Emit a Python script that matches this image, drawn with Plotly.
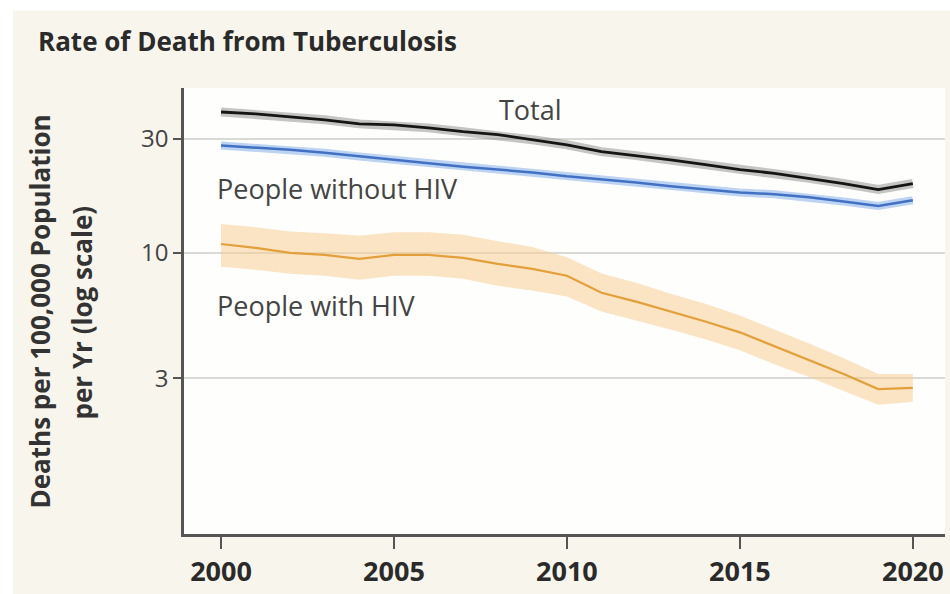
import plotly.graph_objects as go

years = list(range(2000, 2021))

total = [38.8, 38.1, 37.0, 36.0, 34.6, 34.3, 33.3, 32.1, 31.2, 29.7, 28.3,
         26.5, 25.5, 24.5, 23.4, 22.3, 21.5, 20.5, 19.5, 18.4, 19.5]

without_hiv = [28.1, 27.5, 27.0, 26.2, 25.3, 24.5, 23.6, 22.9, 22.3, 21.7, 20.9,
               20.3, 19.7, 19.0, 18.4, 17.9, 17.6, 17.1, 16.4, 15.7, 16.6]

with_hiv = [10.9, 10.5, 10.0, 9.81, 9.44, 9.81, 9.81, 9.53, 9.00, 8.58, 8.03,
            6.82, 6.26, 5.69, 5.17, 4.66, 4.07, 3.56, 3.12, 2.70, 2.73]
with_hiv_upper = [13.2, 12.8, 12.3, 12.1, 11.8, 12.2, 12.2, 11.9, 11.2, 10.6, 9.6,
                  8.2, 7.5, 6.76, 6.14, 5.48, 4.79, 4.19, 3.63, 3.12, 3.12]
with_hiv_lower = [8.75, 8.50, 8.18, 8.03, 7.73, 8.03, 8.03, 7.80, 7.30, 6.96, 6.57,
                  5.69, 5.22, 4.79, 4.36, 3.92, 3.43, 3.03, 2.65, 2.32, 2.39]

x_ticks = [2000, 2005, 2010, 2015, 2020]
y_ticks = [3, 10, 30]
y_tick_labels = ["3", "10", "30"]

FONT = "Open Sans"

fig = go.Figure()

# People with HIV uncertainty band
fig.add_trace(go.Scatter(x=years, y=with_hiv_upper, mode="lines",
                         line=dict(width=0, color="rgba(0,0,0,0)"),
                         hoverinfo="skip", showlegend=False))
fig.add_trace(go.Scatter(x=years, y=with_hiv_lower, mode="lines",
                         line=dict(width=0, color="rgba(0,0,0,0)"),
                         fill="tonexty", fillcolor="rgba(247,205,150,0.55)",
                         hoverinfo="skip", showlegend=False))
fig.add_trace(go.Scatter(x=years, y=with_hiv, mode="lines",
                         line=dict(color="#e3a03a", width=2.2),
                         name="People with HIV", showlegend=False))

# People without HIV (band as soft wide line)
fig.add_trace(go.Scatter(x=years, y=without_hiv, mode="lines",
                         line=dict(color="rgba(160,192,238,0.7)", width=8),
                         hoverinfo="skip", showlegend=False))
fig.add_trace(go.Scatter(x=years, y=without_hiv, mode="lines",
                         line=dict(color="#4271c4", width=2.5),
                         name="People without HIV", showlegend=False))

# Total
fig.add_trace(go.Scatter(x=years, y=total, mode="lines",
                         line=dict(color="rgba(150,150,150,0.55)", width=9),
                         hoverinfo="skip", showlegend=False))
fig.add_trace(go.Scatter(x=years, y=total, mode="lines",
                         line=dict(color="#151515", width=2.8),
                         name="Total", showlegend=False))

L, R, T, B = 184, 5, 88, 57
W, H = 950, 594
pw, ph = W - L - R, H - T - B


def px(xp):
    return (xp - L) / pw


def py(yp):
    return (H - B - yp) / ph


annotations = [
    dict(text="Rate of Death from Tuberculosis", x=px(36), y=py(41),
         xref="paper", yref="paper", xanchor="left", yanchor="middle",
         showarrow=False, font=dict(family=FONT, size=26, color="#2a2a2a", weight="bold")),
    dict(text="Deaths per 100,000 Population", x=px(40), y=py(313),
         xref="paper", yref="paper", xanchor="center", yanchor="middle",
         textangle=-90, showarrow=False,
         font=dict(family=FONT, size=26, color="#333333", weight="bold")),
    dict(text="per Yr (log scale)", x=px(82), y=py(314),
         xref="paper", yref="paper", xanchor="center", yanchor="middle",
         textangle=-90, showarrow=False,
         font=dict(family=FONT, size=26, color="#333333", weight="bold")),
    dict(text="Total", x=px(530), y=py(110),
         xref="paper", yref="paper", xanchor="center", yanchor="middle",
         showarrow=False, font=dict(family=FONT, size=27, color="#444444")),
    dict(text="People without HIV", x=px(215), y=py(189),
         xref="paper", yref="paper", xanchor="left", yanchor="middle",
         showarrow=False, font=dict(family=FONT, size=27, color="#444444")),
    dict(text="People with HIV", x=px(215), y=py(307),
         xref="paper", yref="paper", xanchor="left", yanchor="middle",
         showarrow=False, font=dict(family=FONT, size=27, color="#444444")),
]

shapes = [
    dict(type="rect", xref="paper", yref="paper", x0=px(-5), x1=px(13),
         y0=py(600), y1=py(-5), fillcolor="white", line=dict(width=0), layer="below"),
    dict(type="rect", xref="paper", yref="paper", x0=px(-5), x1=px(955),
         y0=py(10), y1=py(-5), fillcolor="white", line=dict(width=0), layer="below"),
]

fig.update_layout(
    width=W, height=H,
    margin=dict(l=L, r=R, t=T, b=B),
    paper_bgcolor="#f8f6ec",
    plot_bgcolor="#fefefc",
    showlegend=False,
    annotations=annotations,
    shapes=shapes,
    font=dict(family=FONT),
)

fig.update_xaxes(
    range=[1998.93, 2020.93],
    tickvals=x_ticks, ticktext=[str(v) for v in x_ticks],
    ticks="outside", ticklen=12, tickwidth=2, tickcolor="#555555",
    showline=True, linecolor="#555555", linewidth=2.5,
    showgrid=False, zeroline=False,
    tickfont=dict(family=FONT, size=27, color="#2a2a2a", weight="bold"),
)

fig.update_yaxes(
    type="log",
    range=[-0.174, 1.689],
    tickvals=y_ticks, ticktext=y_tick_labels,
    ticks="outside", ticklen=8, tickwidth=1.5, tickcolor="#555555",
    showline=True, linecolor="#555555", linewidth=2.5,
    showgrid=True, gridcolor="#d9d9d6", gridwidth=1.5,
    zeroline=False,
    tickfont=dict(family=FONT, size=24, color="#444444"),
)

fig.write_html("out.html")
